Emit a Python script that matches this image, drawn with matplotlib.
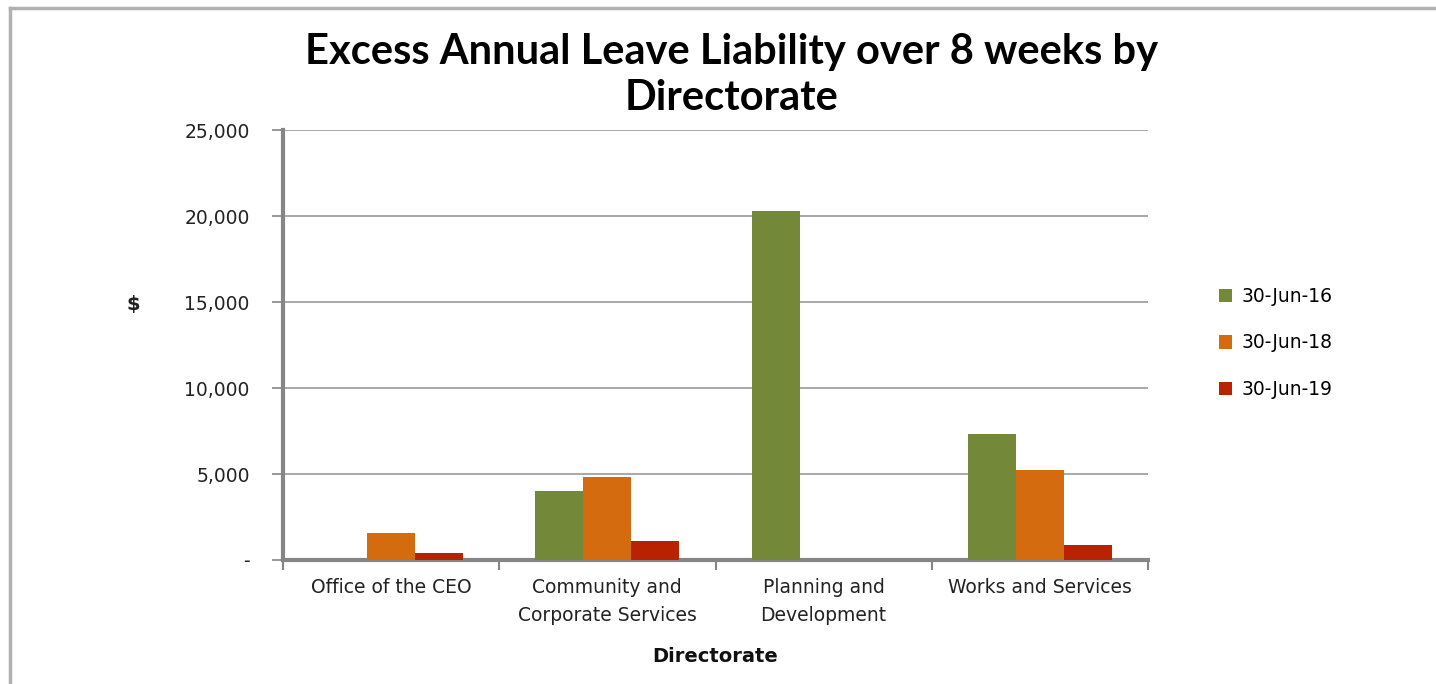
import matplotlib
matplotlib.use('Agg')
import matplotlib.pyplot as plt
import matplotlib.ticker as mticker
import matplotlib.lines as mlines
import numpy as np

# excess annual leave liability ($) by directorate and balance date
directorates = ['Office of the CEO', 'Community and\nCorporate Services',
                'Planning and\nDevelopment', 'Works and Services']
periods = ['30-Jun-16', '30-Jun-18', '30-Jun-19']
jun16 = [0, 4000, 20300, 7300]
jun18 = [1550, 4800, 0, 5250]
jun19 = [400, 1100, 0, 900]
colors = ['#74883a', '#d46b0e', '#b82200']

plt.rcParams['font.family'] = ['DejaVu Sans']

fig = plt.figure(figsize=(14.36, 6.84), dpi=100)
ax = fig.add_axes([283 / 1436, 1 - 560 / 684, (1148 - 283) / 1436, (560 - 130) / 684])

# outer chart frame (top and left edges)
fig.add_artist(mlines.Line2D([10 / 1436, 10 / 1436], [0, 1 - 8 / 684],
                             color='#b0b0b0', lw=2.5, transform=fig.transFigure))
fig.add_artist(mlines.Line2D([10 / 1436, 1], [1 - 8 / 684, 1 - 8 / 684],
                             color='#b0b0b0', lw=2.5, transform=fig.transFigure))

x = np.arange(len(directorates))
bar_w = 2 / 3 / 3
for i, (vals, label) in enumerate(zip([jun16, jun18, jun19], periods)):
    ax.bar(x + (i - 1) * bar_w, vals, bar_w, color=colors[i], label=label, zorder=3)

ax.set_xlim(-0.5, len(directorates) - 0.5)
ax.set_ylim(0, 25000)
ax.set_yticks(np.arange(0, 25001, 5000))
ax.yaxis.set_major_formatter(mticker.FuncFormatter(lambda v, p: '-' if v == 0 else f'{v:,.0f}'))
ax.grid(axis='y', color='#9a9a9a', lw=1.2, zorder=0)

ax.set_xticks(x)
ax.set_xticklabels(directorates, fontsize=13.5, color='#222222', linespacing=1.6)
ax.set_xticks(np.arange(len(directorates) + 1) - 0.5, minor=True)
ax.tick_params(axis='x', which='major', length=0, pad=13)
ax.tick_params(axis='x', which='minor', length=7, width=1.5, color='#868686')
ax.tick_params(axis='y', length=8, width=1.2, color='#868686', labelsize=13.5,
               labelcolor='#222222', pad=16)

for side in ['top', 'right']:
    ax.spines[side].set_visible(False)
for side in ['left', 'bottom']:
    ax.spines[side].set_color('#868686')
    ax.spines[side].set_linewidth(3)

ax.set_ylabel('$', rotation=0, fontsize=14, fontweight='bold', color='#222222',
              va='center', ha='center')
ax.yaxis.set_label_coords(-150 / 865, (560 - 305) / 430)
ax.set_xlabel('Directorate', fontsize=14, fontweight='bold', color='#111111', labelpad=16)

fig.text(732 / 1436, 1 - 75 / 684, 'Excess Annual Leave Liability over 8 weeks by\nDirectorate',
         ha='center', va='center', fontsize=30, fontweight='bold', family='Lato',
         linespacing=1.25)

ax.legend(loc='center left', bbox_to_anchor=(1202 / 1436, 1 - 343 / 684),
          bbox_transform=fig.transFigure, frameon=False, fontsize=13.5,
          handlelength=0.7, handleheight=0.7, handletextpad=0.5, labelspacing=1.45)

fig.savefig('out.png', dpi=100)
